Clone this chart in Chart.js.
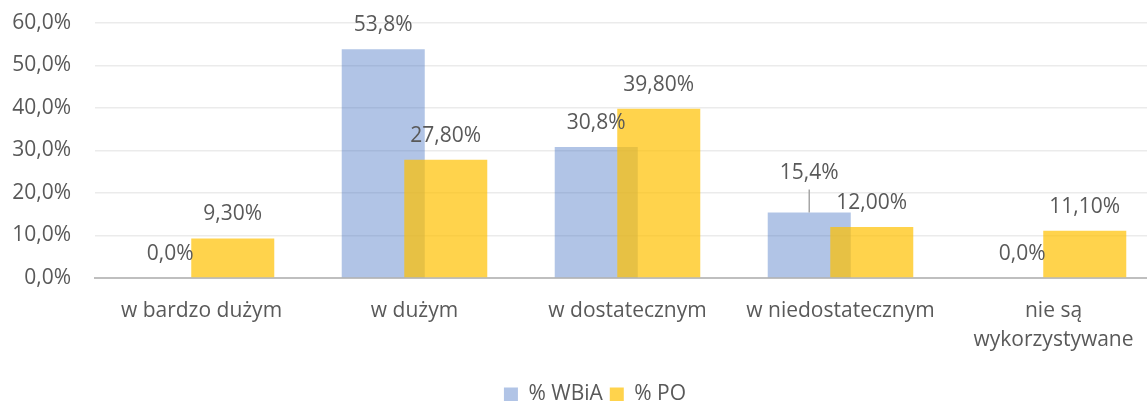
<!DOCTYPE html>
<html>
<head>
<meta charset="utf-8">
<script src="https://cdn.jsdelivr.net/npm/chart.js@4.4.0/dist/chart.umd.min.js"></script>
<style>
  html,body{margin:0;padding:0;background:#fff;overflow:hidden;}
  #wrap{width:1147px;height:401px;overflow:hidden;position:relative;}
  #box{width:1190px;height:415px;position:absolute;left:0;top:0;}
</style>
</head>
<body>
<div id="wrap"><div id="box"><canvas id="chart"></canvas></div></div>
<script>
const categories = ["w bardzo dużym", "w dużym", "w dostatecznym", "w niedostatecznym", ["nie są", "wykorzystywane"]];
const seriesNames = ["% WBiA", "% PO"];
const wbiaValues = [0.0, 53.8, 30.8, 15.4, 0.0];
const poValues = [9.3, 27.8, 39.8, 12.0, 11.1];
const yTicks = [0, 10, 20, 30, 40, 50, 60];

const FONT = '"Open Sans", "DejaVu Sans", sans-serif';
const TEXT = "#595959";
const pct = (v, d) => v.toFixed(d).replace(".", ",") + "%";
const labelDecimals = [1, 2];

// yellow bars sit on top of the blue ones, so draw the datasets in index order
const drawOrder = {
  id: "drawOrder",
  beforeDatasetsDraw(chart) {
    chart.data.datasets.forEach((ds, i) => chart.getDatasetMeta(i).controller.draw());
    return false;
  }
};

const valueLabels = {
  id: "valueLabels",
  afterDraw(chart) {
    const ctx = chart.ctx;
    ctx.save();
    ctx.font = "21px " + FONT;
    ctx.fillStyle = TEXT;
    ctx.textAlign = "center";
    ctx.textBaseline = "middle";
    chart.data.datasets.forEach((ds, di) => {
      chart.getDatasetMeta(di).data.forEach((bar, i) => {
        let y = bar.y - 24;
        if (di === 0 && i === 3) {
          // label pushed up with a leader line
          ctx.strokeStyle = "#A6A6A6";
          ctx.lineWidth = 1.5;
          ctx.beginPath();
          ctx.moveTo(bar.x, bar.y);
          ctx.lineTo(bar.x, bar.y - 23);
          ctx.stroke();
          y = bar.y - 40;
        }
        ctx.fillText(pct(ds.data[i], labelDecimals[di]), bar.x, y);
      });
    });
    ctx.restore();
  }
};

new Chart(document.getElementById("chart"), {
  type: "bar",
  data: {
    labels: categories,
    datasets: [
      { label: seriesNames[0], data: wbiaValues, backgroundColor: "rgba(68,114,196,0.42)", borderWidth: 0 },
      { label: seriesNames[1], data: poValues, backgroundColor: "rgba(255,192,0,0.7)", borderWidth: 0 }
    ]
  },
  options: {
    responsive: true,
    maintainAspectRatio: false,
    animation: false,
    categoryPercentage: 0.587,
    barPercentage: 1.328,
    layout: { padding: { top: 23, left: 0, right: 0, bottom: 0 } },
    plugins: {
      tooltip: { enabled: false },
      legend: {
        position: "bottom",
        labels: { boxWidth: 14, boxHeight: 14, padding: 7, color: TEXT, font: { family: FONT, size: 21 } }
      }
    },
    scales: {
      x: {
        grid: { display: false },
        border: { display: true, color: "#BFBFBF", width: 2 },
        ticks: { color: TEXT, padding: 10, maxRotation: 0, autoSkip: false, font: { family: FONT, size: 21, lineHeight: 1.4 } },
        afterFit(s) { s.height = 99; }
      },
      y: {
        min: yTicks[0],
        max: yTicks[yTicks.length - 1],
        afterBuildTicks(s) { s.ticks = yTicks.map(v => ({ value: v })); },
        grid: { color: "#EBEBEB", lineWidth: 1.5, drawTicks: true, tickLength: 24, tickColor: "rgba(0,0,0,0)" },
        border: { display: false },
        ticks: { color: TEXT, padding: 0, font: { family: FONT, size: 21 }, callback: v => pct(v, 1) },
        afterFit(s) { s.width = 95; }
      },
      y2: {
        position: "right",
        grid: { display: false },
        border: { display: false },
        ticks: { display: false },
        afterFit(s) { s.width = 30; }
      }
    }
  },
  plugins: [drawOrder, valueLabels]
});
</script>
</body>
</html>
